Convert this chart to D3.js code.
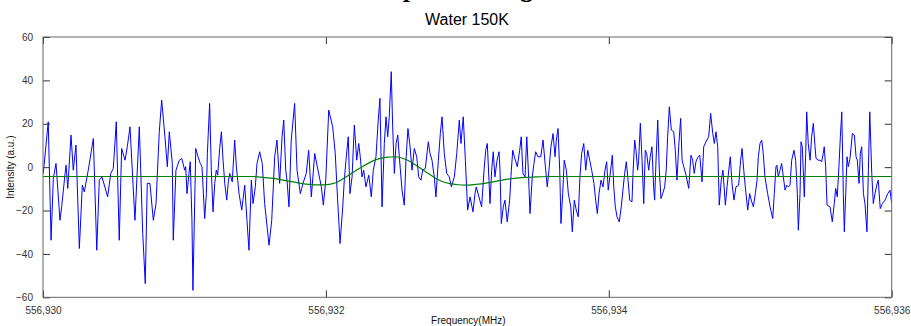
<!DOCTYPE html>
<html>
<head>
<meta charset="utf-8">
<script src="https://cdn.jsdelivr.net/npm/d3@7/dist/d3.min.js"></script>
<style>
  body { margin: 0; background: #fff; }
  svg { display: block; font-family: "Liberation Sans", Arial, sans-serif; }
</style>
</head>
<body>
<div id="chart"></div>
<script>
// frequency offsets (kHz from 556.930 MHz) and intensities
var blueOffsetKHz = [
  0.002,0.037,0.057,0.073,0.092,0.120,0.132,0.156,0.163,0.175,0.198,0.214,0.233,0.257,0.278,0.292,0.320,0.356,0.380,0.398,
  0.417,0.457,0.479,0.497,0.518,0.539,0.556,0.580,0.596,0.615,0.650,0.681,0.705,0.723,0.737,0.756,0.780,0.799,0.822,0.839,
  0.862,0.879,0.893,0.914,0.921,0.940,0.964,0.981,1.002,1.009,1.018,1.032,1.041,1.053,1.060,1.080,1.096,1.112,1.124,1.143,
  1.155,1.162,1.178,1.190,1.202,1.214,1.225,1.235,1.249,1.261,1.273,1.285,1.299,1.310,1.320,1.338,1.355,1.367,1.386,1.405,
  1.426,1.442,1.456,1.473,1.485,1.501,1.513,1.532,1.550,1.567,1.598,1.617,1.638,1.654,1.673,1.690,1.702,1.716,1.725,1.739,
  1.755,1.779,1.796,1.819,1.838,1.861,1.878,1.897,1.921,1.944,1.968,1.982,1.999,2.020,2.048,2.066,2.083,2.100,2.119,2.130,
  2.142,2.158,2.170,2.185,2.201,2.218,2.232,2.243,2.255,2.267,2.283,2.303,2.321,2.335,2.354,2.370,2.382,2.397,2.413,2.425,
  2.437,2.448,2.462,2.472,2.484,2.496,2.508,2.519,2.538,2.554,2.566,2.580,2.595,2.609,2.625,2.642,2.656,2.672,2.684,2.703,
  2.724,2.736,2.750,2.766,2.778,2.795,2.809,2.821,2.837,2.854,2.872,2.887,2.908,2.925,2.943,2.955,2.971,2.986,3.002,3.019,
  3.040,3.054,3.063,3.082,3.101,3.118,3.130,3.141,3.153,3.160,3.172,3.183,3.195,3.210,3.224,3.231,3.240,3.254,3.266,3.282,
  3.299,3.311,3.321,3.332,3.353,3.370,3.381,3.393,3.408,3.420,3.431,3.443,3.459,3.471,3.483,3.499,3.519,3.535,3.554,3.565,
  3.577,3.591,3.606,3.620,3.629,3.641,3.653,3.662,3.674,3.685,3.700,3.714,3.731,3.742,3.756,3.770,3.784,3.796,3.808,3.823,
  3.837,3.851,3.865,3.879,3.895,3.907,3.919,3.931,3.945,3.959,3.973,3.985,3.996,4.013,4.025,4.035,4.046,4.058,4.074,4.088,
  4.100,4.112,4.124,4.136,4.148,4.164,4.171,4.183,4.192,4.204,4.211,4.223,4.235,4.247,4.258,4.268,4.282,4.293,4.305,4.317,
  4.324,4.334,4.346,4.357,4.369,4.381,4.395,4.406,4.416,4.428,4.442,4.459,4.470,4.482,4.494,4.508,4.518,4.530,4.546,4.565,
  4.581,4.593,4.604,4.616,4.631,4.643,4.659,4.671,4.687,4.706,4.720,4.735,4.746,4.758,4.770,4.781,4.795,4.807,4.824,4.836,
  4.848,4.859,4.871,4.885,4.899,4.918,4.932,4.942,4.954,4.965,4.982,4.996,5.007,5.022,5.036,5.048,5.057,5.069,5.081,5.092,
  5.104,5.123,5.140,5.159,5.170,5.182,5.189,5.198,5.210,5.222,5.234,5.246,5.258,5.269,5.281,5.293,5.309,5.321,5.333,5.340,
  5.352,5.359,5.368,5.382,5.392,5.399,5.410,5.423,5.434,5.446,5.458,5.465,5.481,5.493,5.505,5.516,5.523,5.533,5.543,5.564,
  5.580,5.594,5.604,5.615,5.627,5.637,5.647,5.658,5.665,5.675,5.684,5.693,5.705,5.722,5.736,5.748,5.757,5.769,5.778,5.788,
  5.800,5.811,5.825,5.835,5.845,5.859,5.870,5.882,5.894,5.905,5.919,5.934,5.953,5.972,5.988,6.000
];
var blueIntensity = [
  -2.9,20.9,-33.7,-5.2,1.7,-24.5,-18.3,-2.9,0.9,-9.8,14.8,-1.4,10.2,-37.5,-8.3,-11.4,-1.4,13.2,-38.3,-6,
  -4.5,-13.7,-2.9,-0.6,20.9,-33.7,8.6,3.2,9.4,18.6,-24.5,18.6,-30.6,-53.7,-7.5,-7.5,-24.5,-16.8,16.3,30.9,
  14,0.2,16.3,1.7,-33.7,-1.4,3.2,4,-1.4,0.2,-12.2,-2.9,2.5,-24.5,-56.8,8.6,4.8,1.7,0.2,-23.7,
  -12.2,6.3,29.4,-1.4,-20.6,-7.5,-1.4,-3.7,8.6,16.3,3.2,-7.5,-15.2,-6.8,-2.9,-6.8,12.5,0.2,-12.2,-19.8,
  -8.3,-24.5,-38.3,-6,-16.8,-9.1,1.7,7.1,1.7,-16.8,-36,-24.5,4.8,12.5,-7.5,14,21.7,-1.4,-6,-18.3,
  12.5,29.4,-1.4,-12.2,-7.5,-2.9,7.8,-13.7,6.3,-1.4,-9.1,-17.5,-6,26.3,18.6,6.3,-15.2,-35.2,-18.3,-6,
  3.2,14,-12.2,-4.5,19.4,3.2,10.9,4.8,-4.5,-1.4,-9.1,-3.7,-13.7,-1.4,4.8,21.7,31.7,-18.3,10.9,23.2,
  14,23.2,44,18.6,-2.9,10.9,14.8,4.8,-10.6,-17.5,3.2,17.8,9.4,-1.4,8.6,4.8,-4.5,-6,-1.4,-0.6,
  11.7,6.3,3.2,-4.5,-13.7,3.2,15.5,23.2,6.3,-2.9,-4.5,-9.1,-4.5,6.3,21.7,10.9,23.2,3.2,-19.8,-13.7,
  -20.6,-12.2,-9.1,-13.7,-18.3,-1.4,7.8,10.9,-6,-16.8,-1.4,7.1,-4.5,3.2,7.1,-1.4,-26,-18.3,-15.2,-25.2,
  -15.2,-1.4,7.8,4.8,0.2,7.8,14,-2.9,-4.5,14,-1.4,-21.4,-4.5,1.7,7.1,4.8,4.8,12.5,-1.4,-9.1,
  -1.4,9.4,15.5,4.8,12.5,17.8,-1.4,-26,-12.2,3.2,-1.4,-12.2,-18.3,-29.8,-15.2,-19.8,-22.9,-4.5,6.3,10.9,
  -1.4,7.8,3.2,-1.4,-7.5,-15.2,-21.4,-12.2,-6,-9.1,-1.4,2.5,-10.6,-1.4,5.5,-9.1,-18.3,-22.9,-25.2,-18.3,
  -10.6,-2.9,2.5,-6,-15.2,-16,-2.9,12.5,7.8,-1.4,3.2,20.2,3.2,-16.8,7.8,6.3,-1.4,4.8,9.4,-9.1,
  -15.2,3.2,21.7,-1.4,-14.5,-12.2,-9.1,-1.4,14,27.8,17.1,16.3,7.8,-6,9.4,22.5,3.2,0.2,-3.7,-9.8,
  5.5,3.2,-2.9,2.5,4.8,5.5,-6.8,9.4,11.7,14,24.8,15.5,10.9,16.3,9.4,-17.5,-6,-1.4,-17.5,-9.1,
  -1.4,4.8,-7.5,-15.2,-9.1,-8.3,3.2,8.6,-1.4,-9.1,-19.8,-12.2,-15.2,-18.3,-12.2,-6,4.8,10.9,12.5,6.3,
  -4.5,-12.2,-18.3,-23.7,-12.2,0.2,0.9,-4.5,-1.4,1.7,-4.5,-10.6,-8.3,-9.1,-8.3,3.2,7.8,3.2,-12.2,-29.1,
  -12.2,11.7,9.4,-13.7,6.3,25.5,10.9,3.2,14,20.2,9.4,4,3.2,3.2,2.5,6.3,9.4,0.2,-17.5,-18.3,
  -25.2,-16.8,-9.8,-13.7,0.2,14,25.5,-12.2,-29.8,-12.2,4.8,0.2,4,15.5,14.8,4.8,3.2,-7.5,6.3,9.4,
  -12.2,-16.8,-29.8,-1.4,25.5,-2.9,-16.8,-12.2,-8.3,-6,-19.1,-16.8,-15.2,-12.2,-10.6,-16.8
];

// fitted line (green)
var greenOffsetKHz = [0,1.463,1.626,1.767,1.859,1.980,2.071,2.142,2.236,2.354,2.425,2.496,2.566,2.637,2.708,2.778,2.849,2.920,2.991,3.082,3.153,3.245,3.365,3.483,3.598,6.000];
var greenIntensity = [-4.3,-4.3,-5.2,-6.8,-7.8,-8.2,-7.2,-4.5,-0.6,3.5,4.5,4.8,3.5,0.9,-2.2,-5.2,-7.2,-8,-8.3,-7.8,-7.1,-6,-4.9,-4.5,-4.3,-4.3];

var baseFreq = 556.930;
var xTicks = [556.930, 556.932, 556.934, 556.936];
var yTicks = [-60, -40, -20, 0, 20, 40, 60];

var W = 911, H = 326;
var margin = { top: 37, right: 19.3, bottom: 28.7, left: 43 },
    width  = W - margin.left - margin.right,
    height = H - margin.top - margin.bottom;

var svg = d3.select('#chart').append('svg')
    .attr('width', W)
    .attr('height', H);

// heading above the plot, cropped off in the original: only descenders show
svg.append('text')
    .attr('x', 361).attr('y', -3.5)
    .attr('font-family', '"Liberation Serif", serif')
    .attr('font-weight', 'bold')
    .attr('font-size', 26)
    .attr('fill', '#000')
    .text('Deep Cloud Signal');

svg.append('text')
    .attr('x', 467).attr('y', 25)
    .attr('text-anchor', 'middle')
    .attr('font-size', 16)
    .attr('fill', '#000')
    .text('Water 150K');

var g = svg.append('g')
    .attr('transform', 'translate(' + margin.left + ',' + margin.top + ')');

var x = d3.scaleLinear().domain([556.930, 556.936]).range([0, width]);
var y = d3.scaleLinear().domain([-60, 60]).range([height, 0]);

g.append('clipPath').attr('id', 'clip')
  .append('rect').attr('width', width).attr('height', height);

var blue = blueOffsetKHz.map((o, i) => ({ f: baseFreq + o / 1000, v: blueIntensity[i] }));
var green = greenOffsetKHz.map((o, i) => ({ f: baseFreq + o / 1000, v: greenIntensity[i] }));

var plot = g.append('g').attr('clip-path', 'url(#clip)');

plot.append('path')
    .datum(blue)
    .attr('fill', 'none')
    .attr('stroke', '#0000ff')
    .attr('stroke-width', 1)
    .attr('d', d3.line().x(d => x(d.f)).y(d => y(d.v)));

plot.append('path')
    .datum(green)
    .attr('fill', 'none')
    .attr('stroke', '#008000')
    .attr('stroke-width', 1.2)
    .attr('d', d3.line().curve(d3.curveMonotoneX).x(d => x(d.f)).y(d => y(d.v)));

var fmtX = d => d3.format('.3f')(d).replace('.', ',');
var tickLen = 7;

// axes: ticks pointing inward, mirrored on top/right
var axStyle = function(sel) {
  sel.select('.domain').remove();
  sel.selectAll('line').attr('stroke', '#333');
  sel.selectAll('text').attr('fill', '#333').attr('font-size', 10)
     .attr('font-family', '"Liberation Sans", Arial, sans-serif');
};

g.append('g')
    .attr('transform', 'translate(0,' + height + ')')
    .call(d3.axisBottom(x).tickValues(xTicks).tickFormat(fmtX).tickSizeInner(-tickLen).tickSizeOuter(0).tickPadding(10))
    .call(axStyle);
g.append('g')
    .call(d3.axisTop(x).tickValues(xTicks).tickFormat('').tickSizeInner(-tickLen).tickSizeOuter(0))
    .call(axStyle);
g.append('g')
    .call(d3.axisLeft(y).tickValues(yTicks).tickSizeInner(-tickLen).tickSizeOuter(0).tickPadding(10))
    .call(axStyle);
g.append('g')
    .attr('transform', 'translate(' + width + ',0)')
    .call(d3.axisRight(y).tickValues(yTicks).tickFormat('').tickSizeInner(-tickLen).tickSizeOuter(0))
    .call(axStyle);

g.append('rect')
    .attr('width', width).attr('height', height)
    .attr('fill', 'none')
    .attr('stroke', '#666')
    .attr('stroke-width', 1);

g.append('text')
    .attr('x', width / 2 + 1).attr('y', height + 27)
    .attr('text-anchor', 'middle')
    .attr('font-size', 10)
    .attr('fill', '#111')
    .text('Frequency(MHz)');

g.append('text')
    .attr('transform', 'translate(' + (-29) + ',' + (height / 2) + ') rotate(-90)')
    .attr('text-anchor', 'middle')
    .attr('font-size', 10)
    .attr('fill', '#111')
    .text('Intensity (a.u.)');
</script>
</body>
</html>
